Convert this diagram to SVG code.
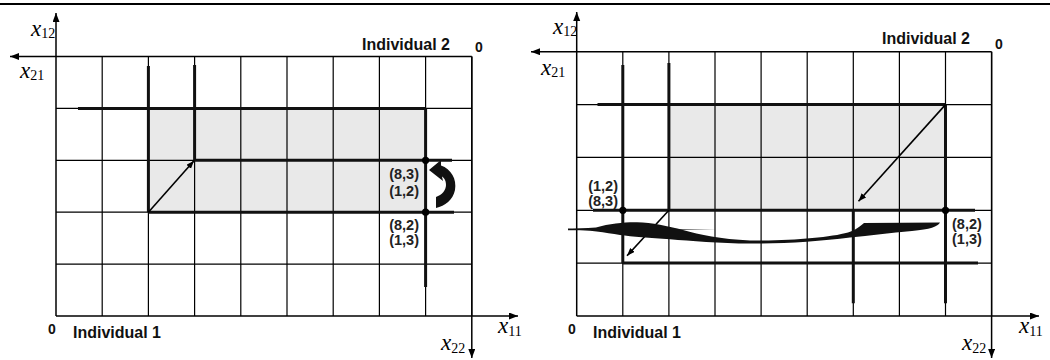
<svg xmlns="http://www.w3.org/2000/svg" width="1050" height="360" viewBox="0 0 1050 360">
<style>
.grid{stroke:#000;stroke-width:1.2;fill:none}
.thick{stroke:#111;stroke-width:3;fill:none}
.axis{stroke:#000;stroke-width:1.5;fill:none}
.thin{stroke:#000;stroke-width:1.6;fill:none}
.shade{fill:#e9e9e9;stroke:none}
.lbl{font-family:"Liberation Sans",Arial,sans-serif;font-weight:bold;font-size:16px;fill:#111}
.co{font-family:"Liberation Sans",Arial,sans-serif;font-weight:bold;font-size:14.5px;fill:#222}
.zero{font-family:"Liberation Sans",Arial,sans-serif;font-weight:bold;font-size:14px;fill:#111}
.ax{font-family:"Liberation Serif","Times New Roman",serif;font-style:italic;font-size:23px;fill:#000}
.sub{font-style:normal;font-size:14px}
.dot{fill:#000}
.blob{fill:#111}
</style>
<defs>
<marker id="axh" markerUnits="userSpaceOnUse" markerWidth="10" markerHeight="8" refX="9" refY="3.5" orient="auto"><path d="M0,0 L9,3.5 L0,7 Z" fill="#000"/></marker>
<marker id="ah" markerUnits="userSpaceOnUse" markerWidth="9" markerHeight="7" refX="8" refY="3" orient="auto"><path d="M0,0 L8,3 L0,6 Z" fill="#000"/></marker>
</defs>
<line x1="0" y1="4" x2="1050" y2="4" stroke="#000" stroke-width="2"/>

<g id="left-panel">
  <rect class="shade" x="148.4" y="108.4" width="277.2" height="103.8"/>
  <g id="left-grid" class="grid">
    <path d="M102.2,56.5V316 M148.4,56.5V316 M194.6,56.5V316 M240.8,56.5V316 M287,56.5V316 M333.2,56.5V316 M379.4,56.5V316 M425.6,56.5V316 M471.8,56.5V316"/>
    <path d="M56,108.4H471.8 M56,160.3H471.8 M56,212.2H471.8 M56,264.1H471.8"/>
  </g>
  <g id="left-axes" class="axis">
    <line x1="56" y1="316" x2="56" y2="13" marker-end="url(#axh)"/>
    <line x1="471.8" y1="56.5" x2="10" y2="56.5" marker-end="url(#axh)"/>
    <line x1="56" y1="316" x2="518" y2="316" marker-end="url(#axh)"/>
    <line x1="471.8" y1="56.5" x2="471.8" y2="358" marker-end="url(#axh)"/>
  </g>
  <g id="left-bounds" class="thick">
    <path d="M78,108.4H425.6 M148.4,66V212.2 M194.6,65V160.3 M194.6,160.3H452 M148.4,212.2H454 M425.6,108.4V287"/>
  </g>
  <g id="left-connectors">
    <line class="thin" x1="148.4" y1="212.2" x2="194" y2="160.8" marker-end="url(#ah)"/>
    <path class="blob" d="M429,170 L441,160 L441,165.5 C451,169 457,179 455,190 C453,200 445,206 436,208 L436,197 C442,195 446,190 446,185 C446,180 444,178 442,176.5 L443,181 Z"/>
  </g>
  <circle class="dot" cx="425.6" cy="160.3" r="3.6"/>
  <circle class="dot" cx="425.6" cy="212.2" r="3.6"/>
  <text class="co" x="419" y="179" text-anchor="end">(8,3)</text>
  <text class="co" x="419" y="195.5" text-anchor="end">(1,2)</text>
  <text class="co" x="419" y="230" text-anchor="end">(8,2)</text>
  <text class="co" x="419" y="245" text-anchor="end">(1,3)</text>
  <text class="lbl" x="362" y="50">Individual 2</text>
  <text class="zero" x="475" y="52">0</text>
  <text class="zero" x="48" y="333.5">0</text>
  <text class="lbl" x="73" y="338.3">Individual 1</text>
  <text class="ax" x="31" y="35.7">x<tspan class="sub" dy="2.6">12</tspan></text>
  <text class="ax" x="20" y="78">x<tspan class="sub" dy="2">21</tspan></text>
  <text class="ax" x="498" y="333">x<tspan class="sub" dy="3">11</tspan></text>
  <text class="ax" x="441" y="350">x<tspan class="sub" dy="3">22</tspan></text>
</g>

<g id="right-panel">
  <rect class="shade" x="668.9" y="104.6" width="276.6" height="105.7"/>
  <g id="right-grid" class="grid">
    <path d="M622.8,51.7V316 M668.9,51.7V316 M715,51.7V316 M761.1,51.7V316 M807.2,51.7V316 M853.3,51.7V316 M899.4,51.7V316 M945.5,51.7V316 M991.6,51.7V316"/>
    <path d="M576.7,104.6H991.6 M576.7,157.4H991.6 M576.7,210.3H991.6 M576.7,263.1H991.6"/>
  </g>
  <g id="right-axes" class="axis">
    <line x1="576.7" y1="316" x2="576.7" y2="12" marker-end="url(#axh)"/>
    <line x1="991.6" y1="51.7" x2="531" y2="51.7" marker-end="url(#axh)"/>
    <line x1="576.7" y1="316" x2="1039" y2="316" marker-end="url(#axh)"/>
    <line x1="991.6" y1="51.7" x2="991.6" y2="358" marker-end="url(#axh)"/>
  </g>
  <g id="right-bounds" class="thick">
    <path d="M597.5,104.6H945.5 M622.8,65V263.1 M668.9,63V210.3 M593,210.3H975 M622.8,263.1H978 M853.3,210.3V303.3 M945.5,104.6V303.3"/>
  </g>
  <g id="right-connectors">
    <line class="thin" x1="945.5" y1="104.6" x2="858.5" y2="201.3" marker-end="url(#ah)"/>
    <line class="thin" x1="668.9" y1="210.3" x2="627" y2="255.8" marker-end="url(#ah)"/>
    <path class="blob" d="M568,228.6 L650,228.8 L717,229.3 L650,230 L568,230.2 Z"/>
    <path class="blob" d="M568,229.2 L596,227.6 C610,223.2 625,222 637,222.2 C652,222.5 668,226 683,230 C700,235 720,239 750,240.5 C790,240.8 830,237.5 848,232.5 C856,230 860,226 864,223 L940,222.5 C938,226.5 930,229.5 912,231 C890,233 870,235.5 850,237.5 C820,241.5 780,243.8 750,243.6 C720,243.2 690,240.8 670,239.2 C650,237.8 632,236.6 620,235 C605,232.5 590,230 568,229.2 Z"/>
  </g>
  <circle class="dot" cx="622.8" cy="210.3" r="3.6"/>
  <circle class="dot" cx="945.5" cy="210.3" r="3.6"/>
  <text class="co" x="618" y="190.5" text-anchor="end">(1,2)</text>
  <text class="co" x="618" y="206" text-anchor="end">(8,3)</text>
  <text class="co" x="952" y="229">(8,2)</text>
  <text class="co" x="952" y="244">(1,3)</text>
  <text class="lbl" x="882" y="43.5">Individual 2</text>
  <text class="zero" x="995" y="48.5">0</text>
  <text class="zero" x="568" y="333.5">0</text>
  <text class="lbl" x="593" y="338.3">Individual 1</text>
  <text class="ax" x="553" y="33.5">x<tspan class="sub" dy="2.6">12</tspan></text>
  <text class="ax" x="541" y="75">x<tspan class="sub" dy="2">21</tspan></text>
  <text class="ax" x="1019" y="333">x<tspan class="sub" dy="3">11</tspan></text>
  <text class="ax" x="962" y="350">x<tspan class="sub" dy="3">22</tspan></text>
</g>
</svg>
